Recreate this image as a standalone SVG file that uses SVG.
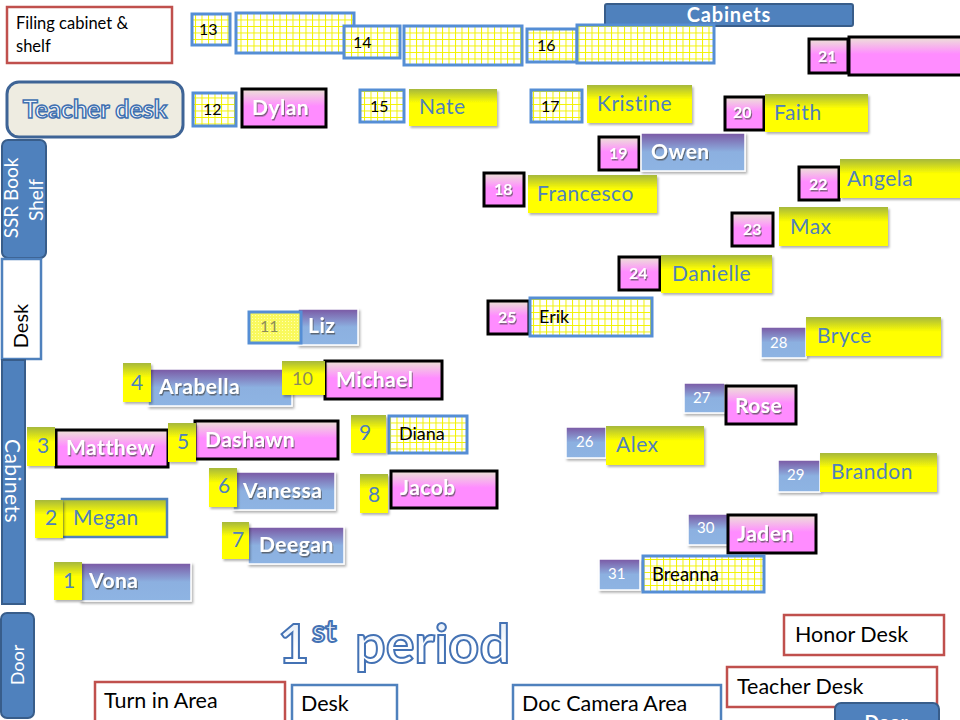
<svg xmlns="http://www.w3.org/2000/svg" width="960" height="720" viewBox="0 0 960 720">
<defs>
<linearGradient id="gy" x1="0" y1="0" x2="0" y2="1"><stop offset="0" stop-color="#a6b83c"/><stop offset="0.38" stop-color="#ffff00"/><stop offset="1" stop-color="#ffff00"/></linearGradient>
<linearGradient id="gp" x1="0" y1="0" x2="0" y2="1"><stop offset="0" stop-color="#7a58a4"/><stop offset="0.5" stop-color="#8cb0e0"/><stop offset="1" stop-color="#8eb4e3"/></linearGradient>
<linearGradient id="gk" x1="0" y1="0" x2="0" y2="1"><stop offset="0" stop-color="#ece4d6"/><stop offset="0.45" stop-color="#ff8cff"/><stop offset="1" stop-color="#ff8cff"/></linearGradient>
<linearGradient id="gt" x1="0" y1="0" x2="0" y2="1"><stop offset="0" stop-color="#dce8f6"/><stop offset="0.6" stop-color="#ffffff"/><stop offset="1" stop-color="#ffffff"/></linearGradient>
<pattern id="grid" width="6.5" height="6.5" patternUnits="userSpaceOnUse"><rect width="6.5" height="6.5" fill="#ffffff"/><path d="M0 0.5H6.5M0.5 0V6.5" stroke="#f2f200" stroke-width="1" fill="none"/></pattern>
<pattern id="fine" width="3" height="3" patternUnits="userSpaceOnUse"><rect width="3" height="3" fill="#f9f95e"/><rect width="1" height="1" fill="#ffffb0"/></pattern>
<filter id="sh" x="-10%" y="-20%" width="130%" height="150%"><feDropShadow dx="1.5" dy="2" stdDeviation="1" flood-color="#000" flood-opacity="0.3"/></filter>
<filter id="ts" x="-10%" y="-30%" width="130%" height="170%"><feDropShadow dx="1" dy="1.5" stdDeviation="0.7" flood-color="#444" flood-opacity="0.7"/></filter>
</defs>
<style>
text{font-family:Lato,"Liberation Sans",sans-serif}
.y{fill:url(#gy);filter:url(#sh)}
.p{fill:url(#gp);stroke:#fff;stroke-width:1.5;filter:url(#sh)}
.k{fill:url(#gk);stroke:#000;stroke-width:3}
.g{fill:url(#grid);stroke:#558ed5;stroke-width:3}
.blue{fill:#4f81bd;stroke:#385d8a;stroke-width:2}
.red{fill:#fff;stroke:#c0504d;stroke-width:2.5}
.bl{fill:#fff;stroke:#4f81bd;stroke-width:2.5}
.nb{fill:#4f81bd;font-size:21px;letter-spacing:0.5px}
.nw{fill:#fff;font-size:21px;font-weight:bold;letter-spacing:0.5px;filter:url(#ts)}
.nk{fill:#000;font-size:18px}
.dy{fill:#4f81bd;font-size:21px}
.dg{fill:#000;font-size:16px}
.dk{fill:#fff;font-size:16px;font-weight:bold;filter:url(#ts)}
.dp{fill:#fff;font-size:15px}
.lb{fill:#000;font-size:21.5px}
</style>

<g id="filing-cabinet"><rect class="red" x="7" y="7" width="165" height="56"/><text x="16" y="29" style="font-size:16.5px">Filing cabinet &amp;</text><text x="16" y="52" style="font-size:16.5px">shelf</text></g>
<g id="cabinets-top"><rect class="blue" x="605" y="4" width="248" height="22" rx="2"/><text x="729" y="22" text-anchor="middle" style="fill:#fff;font-size:20px;font-weight:bold;letter-spacing:0.8px">Cabinets</text></g>
<g id="teacher-desk-top"><rect x="7" y="82" width="176" height="55" rx="12" fill="#eeece1" stroke="#3e6496" stroke-width="3"/><text x="95" y="118" text-anchor="middle" style="font-size:25px;font-weight:bold;fill:url(#gt);stroke:#3f70b0;stroke-width:1.5">Teacher desk</text></g>
<g id="ssr-book-shelf"><rect class="blue" x="2" y="140" width="44" height="118" rx="6"/><text transform="translate(18,198) rotate(-90)" text-anchor="middle" style="fill:#fff;font-size:19px">SSR Book</text><text transform="translate(43,200) rotate(-90)" text-anchor="middle" style="fill:#fff;font-size:19px">Shelf</text></g>
<g id="desk-left"><rect x="2" y="259" width="39" height="100" fill="#fff" stroke="#4f81bd" stroke-width="2.5"/><text transform="translate(28,326) rotate(-90)" text-anchor="middle" style="fill:#000;font-size:20px">Desk</text></g>
<g id="cabinets-left"><rect class="blue" x="2" y="360" width="23" height="244"/><text transform="translate(5,481) rotate(90)" text-anchor="middle" style="fill:#fff;font-size:21px;letter-spacing:0.4px">Cabinets</text></g>
<g id="door-left"><rect class="blue" x="1" y="613" width="33" height="105" rx="6"/><text transform="translate(24,665) rotate(-90)" text-anchor="middle" style="fill:#fff;font-size:18px">Door</text></g>

<g id="seat-13"><rect class="g" x="192" y="14" width="38" height="31"/><text class="dg" x="199" y="35">13</text><rect class="g" x="236" y="13" width="118" height="40"/></g>
<g id="seat-14"><rect class="g" x="404" y="26" width="118" height="39"/><rect class="g" x="344" y="26" width="56" height="32"/><text class="dg" x="353" y="48">14</text></g>
<g id="seat-16"><rect class="g" x="527" y="29" width="50" height="33"/><text class="dg" x="537" y="51">16</text><rect class="g" x="577" y="25" width="137" height="38"/></g>
<g id="seat-12"><rect class="g" x="193" y="93" width="43" height="33"/><text class="dg" x="203" y="115">12</text><rect class="k" x="242" y="89" width="84" height="38"/><text class="nw" x="252" y="115">Dylan</text></g>
<g id="seat-15"><rect class="g" x="360" y="90" width="44" height="32"/><text class="dg" x="370" y="112">15</text><rect class="y" x="409" y="89" width="88" height="37"/><text class="nb" x="419" y="114">Nate</text></g>
<g id="seat-17"><rect class="g" x="531" y="90" width="51" height="32"/><text class="dg" x="541" y="112">17</text><rect class="y" x="587" y="85" width="105" height="38"/><text class="nb" x="597" y="111">Kristine</text></g>
<g id="seat-21"><rect class="k" x="809" y="39" width="39" height="34"/><text class="dk" x="818" y="62">21</text><rect class="k" x="849" y="37" width="120" height="38"/></g>
<g id="seat-20"><rect class="k" x="725" y="97" width="39" height="33"/><text class="dk" x="733" y="118">20</text><rect class="y" x="765" y="94" width="103" height="38"/><text class="nb" x="774" y="120">Faith</text></g>
<g id="seat-19"><rect class="k" x="599" y="137" width="40" height="33"/><text class="dk" x="609" y="159">19</text><rect class="p" x="641" y="133" width="104" height="38"/><text class="nw" x="651" y="159">Owen</text></g>
<g id="seat-18"><rect class="k" x="484" y="173" width="40" height="33"/><text class="dk" x="494" y="195">18</text><rect class="y" x="528" y="175" width="129" height="38"/><text class="nb" x="537" y="201">Francesco</text></g>
<g id="seat-22"><rect class="k" x="799" y="167" width="40" height="33"/><text class="dk" x="809" y="190">22</text><rect class="y" x="840" y="159" width="125" height="39"/><text class="nb" x="847" y="186">Angela</text></g>
<g id="seat-23"><rect class="k" x="732" y="213" width="41" height="33"/><text class="dk" x="743" y="235">23</text><rect class="y" x="779" y="207" width="109" height="39"/><text class="nb" x="790" y="234">Max</text></g>
<g id="seat-24"><rect class="k" x="619" y="257" width="41" height="33"/><text class="dk" x="629" y="279">24</text><rect class="y" x="661" y="255" width="111" height="38"/><text class="nb" x="672" y="281">Danielle</text></g>
<g id="seat-25"><rect class="k" x="488" y="301" width="41" height="33"/><text class="dk" x="498" y="323">25</text><rect class="g" x="530" y="298" width="122" height="38"/><text class="nk" x="539" y="323">Erik</text></g>
<g id="seat-28"><rect class="p" x="761" y="327" width="45" height="31"/><text class="dp" x="770" y="348">28</text><rect class="y" x="806" y="317" width="135" height="39"/><text class="nb" x="817" y="343">Bryce</text></g>

<g id="seat-11"><rect class="p" x="298" y="309" width="60" height="36"/><text class="nw" x="308" y="333">Liz</text><rect x="249" y="312" width="52" height="31" fill="url(#fine)" stroke="#558ed5" stroke-width="3"/><text x="260" y="332" style="fill:#8c8c5a;font-size:16px">11</text></g>
<g id="seat-4"><rect class="p" x="148" y="369" width="144" height="37"/><text class="nw" x="159" y="394">Arabella</text><rect class="y" x="123" y="363" width="28" height="39"/><text class="dy" x="131" y="390">4</text></g>
<g id="seat-10"><rect class="k" x="325" y="361" width="117" height="38"/><text class="nw" x="336" y="387">Michael</text><rect class="y" x="282" y="361" width="43" height="34"/><text x="292" y="385" style="fill:#8c8c5a;font-size:18px">10</text></g>
<g id="seat-3"><rect class="k" x="56" y="430" width="112" height="37"/><text class="nw" x="66" y="455">Matthew</text><rect class="y" x="27" y="427" width="28" height="39"/><text class="dy" x="37" y="453">3</text></g>
<g id="seat-5"><rect class="k" x="195" y="421" width="143" height="38"/><text class="nw" x="205" y="447">Dashawn</text><rect class="y" x="168" y="423" width="28" height="39"/><text class="dy" x="177" y="449">5</text></g>
<g id="seat-9"><rect class="g" x="389" y="416" width="78" height="37"/><text class="nk" x="399" y="440">Diana</text><rect class="y" x="351" y="415" width="35" height="38"/><text class="dy" x="359" y="440">9</text></g>
<g id="seat-6"><rect class="p" x="233" y="472" width="102" height="38"/><text class="nw" x="243" y="498">Vanessa</text><rect class="y" x="209" y="468" width="28" height="39"/><text class="dy" x="218" y="493">6</text></g>
<g id="seat-8"><rect class="k" x="391" y="471" width="106" height="37"/><text class="nw" x="400" y="495">Jacob</text><rect class="y" x="360" y="474" width="28" height="39"/><text class="dy" x="368" y="502">8</text></g>
<g id="seat-2"><rect x="62" y="499" width="105" height="38" fill="url(#gy)" stroke="#4f81bd" stroke-width="2.5"/><text class="nb" x="73" y="525">Megan</text><rect class="y" x="35" y="500" width="28" height="38"/><text class="dy" x="45" y="525">2</text></g>
<g id="seat-7"><rect class="p" x="248" y="527" width="96" height="37"/><text class="nw" x="259" y="552">Deegan</text><rect class="y" x="222" y="522" width="27" height="37"/><text class="dy" x="232" y="547">7</text></g>
<g id="seat-1"><rect class="p" x="80" y="563" width="111" height="38"/><text class="nw" x="89" y="588">Vona</text><rect class="y" x="54" y="562" width="28" height="38"/><text class="dy" x="63" y="588">1</text></g>

<g id="seat-27"><rect class="p" x="684" y="383" width="41" height="30"/><text class="dp" x="693" y="403">27</text><rect class="k" x="726" y="386" width="70" height="38"/><text class="nw" x="735" y="413">Rose</text></g>
<g id="seat-26"><rect class="p" x="566" y="427" width="40" height="31"/><text class="dp" x="576" y="447">26</text><rect class="y" x="606" y="426" width="98" height="39"/><text class="nb" x="616" y="452">Alex</text></g>
<g id="seat-29"><rect class="p" x="778" y="460" width="42" height="32"/><text class="dp" x="787" y="480">29</text><rect class="y" x="820" y="453" width="117" height="39"/><text class="nb" x="831" y="479">Brandon</text></g>
<g id="seat-30"><rect class="p" x="688" y="514" width="40" height="31"/><text class="dp" x="697" y="533">30</text><rect class="k" x="728" y="515" width="88" height="38"/><text class="nw" x="737" y="541">Jaden</text></g>
<g id="seat-31"><rect class="p" x="599" y="559" width="41" height="31"/><text class="dp" x="608" y="579">31</text><rect class="g" x="643" y="556" width="121" height="36"/><text x="652" y="581" style="fill:#000;font-size:18.5px">Breanna</text></g>

<g id="title"><text y="663" style="font-size:54px;font-weight:bold;fill:url(#gt);stroke:#4472b4;stroke-width:2"><tspan x="278">1</tspan><tspan x="312" y="642" style="font-size:30px">st</tspan><tspan x="355" y="663">period</tspan></text></g>

<g id="honor-desk"><rect class="red" x="784" y="615" width="160" height="40"/><text class="lb" x="795" y="642">Honor Desk</text></g>
<g id="teacher-desk-bottom"><rect class="red" x="727" y="667" width="210" height="40"/><text class="lb" x="737" y="694">Teacher Desk</text></g>
<g id="door-right"><rect class="blue" x="835" y="703" width="104" height="32" rx="6"/><text x="886" y="729" text-anchor="middle" style="fill:#fff;font-size:19px;font-weight:bold">Door</text></g>
<g id="turn-in-area"><rect class="red" x="95" y="682" width="190" height="45"/><text class="lb" x="104" y="708">Turn in Area</text></g>
<g id="desk-bottom"><rect class="bl" x="292" y="685" width="105" height="40"/><text class="lb" x="301" y="711">Desk</text></g>
<g id="doc-camera-area"><rect class="bl" x="513" y="685" width="208" height="40"/><text class="lb" x="522" y="711">Doc Camera Area</text></g>
</svg>
